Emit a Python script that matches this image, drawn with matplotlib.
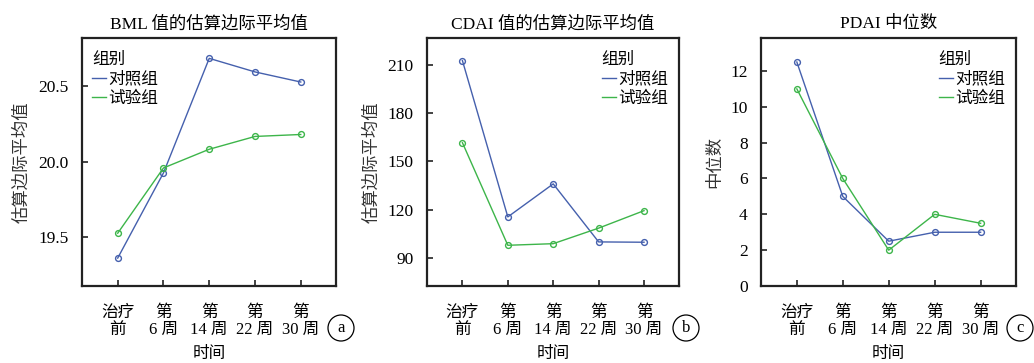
import matplotlib
matplotlib.use("Agg")
import matplotlib.pyplot as plt

plt.rcParams['font.family'] = ['Liberation Serif', 'Noto Sans CJK SC', 'DejaVu Sans']

# Time points and series values
time_labels = ["治疗\n前", "第\n6 周", "第\n14 周", "第\n22 周", "第\n30 周"]
group_names = ["对照组", "试验组"]

bml_control = [19.36, 19.925, 20.685, 20.595, 20.528]
bml_trial = [19.525, 19.958, 20.082, 20.167, 20.18]

cdai_control = [212.9, 115.4, 136.0, 99.8, 99.6]
cdai_trial = [161.7, 97.7, 98.7, 108.4, 119.3]

pdai_control = [12.5, 5.0, 2.5, 3.0, 3.0]
pdai_trial = [11.0, 6.0, 2.0, 4.0, 3.5]

titles = ["BML 值的估算边际平均值", "CDAI 值的估算边际平均值", "PDAI 中位数"]
ylabels = ["估算边际平均值", "估算边际平均值", "中位数"]
yticks = [[19.5, 20.0, 20.5], [90, 120, 150, 180, 210], [0, 2, 4, 6, 8, 10, 12]]
ytick_text = [["19.5", "20.0", "20.5"], None, None]
ylims = [(19.175, 20.82), (72.3, 227.0), (0, 13.84)]
panel_tags = ["a", "b", "c"]

BLUE = "#4560AD"
GREEN = "#3DB54A"
W, H = 1034, 363

fig = plt.figure(figsize=(W / 100, H / 100), dpi=100)

boxes = [(82, 336), (427, 679), (761, 1016)]
top_px, bot_px = 38, 286
ylabelpads = [6, 5, 5]
legend_locs = [(0.013, 0.972, "upper left"), (0.984, 0.972, "upper right"),
               (0.984, 0.972, "upper right")]
tag_pos = [(341, 328), (686, 328), (1020, 328)]

series = [(bml_control, bml_trial), (cdai_control, cdai_trial), (pdai_control, pdai_trial)]
x = list(range(len(time_labels)))

for i in range(3):
    l, r = boxes[i]
    ax = fig.add_axes([l / W, 1 - bot_px / H, (r - l) / W, (bot_px - top_px) / H])
    c_vals, t_vals = series[i]
    ax.plot(x, c_vals, color=BLUE, lw=1.0, marker="o", ms=4.2, mfc="none",
            mew=1.0, label=group_names[0])
    ax.plot(x, t_vals, color=GREEN, lw=1.0, marker="o", ms=4.2, mfc="none",
            mew=1.0, label=group_names[1])
    ax.set_xlim(-0.78, 4.77)
    ax.set_ylim(*ylims[i])
    ax.set_xticks(x)
    ax.set_xticklabels(time_labels, fontsize=12, linespacing=1.05)
    ax.set_yticks(yticks[i])
    if ytick_text[i]:
        ax.set_yticklabels(ytick_text[i])
    ax.tick_params(axis="y", direction="in", length=4, width=1.2, pad=9.5,
                   labelsize=12.5, color="#222222")
    ax.tick_params(axis="x", direction="in", length=4, width=1.2, pad=14,
                   color="#222222")
    for sp in ax.spines.values():
        sp.set_linewidth(1.6)
        sp.set_color("#222222")
    ax.set_title(titles[i], fontsize=12.5, pad=7)
    ax.set_ylabel(ylabels[i], fontsize=12.5, labelpad=ylabelpads[i], color="#333333")
    ax.set_xlabel("时间", fontsize=12, labelpad=5.5)
    bx, by, loc = legend_locs[i]
    leg = ax.legend(title="组别", loc=loc, bbox_to_anchor=(bx, by), frameon=False,
                    fontsize=12, title_fontsize=12, handlelength=0.85,
                    handletextpad=0.15, labelspacing=0.23, borderaxespad=0.0,
                    alignment="left")
    for h in leg.legend_handles:
        h.set_marker("")
    tx, ty = tag_pos[i]
    fig.text(tx / W, 1 - ty / H, panel_tags[i], fontsize=12, ha="center", va="center",
             bbox=dict(boxstyle="circle,pad=0.3", fc="white", ec="black", lw=0.9))

fig.savefig("out.png", dpi=100)
